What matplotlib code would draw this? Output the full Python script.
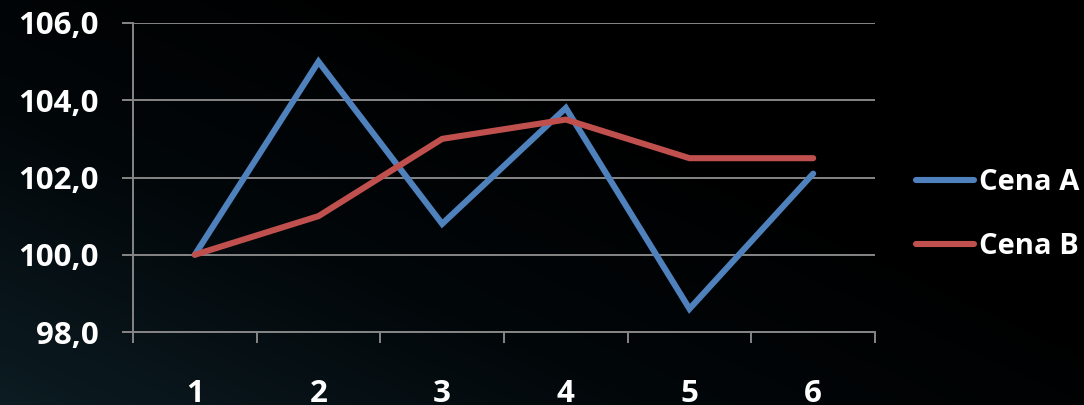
import matplotlib

matplotlib.use("Agg")
import matplotlib.pyplot as plt  # noqa: E402
import numpy as np  # noqa: E402
from matplotlib.colors import LinearSegmentedColormap  # noqa: E402

categories = ["1", "2", "3", "4", "5", "6"]
cena_a = [100.0, 105.0, 100.8, 103.8, 98.6, 102.1]
cena_b = [100.0, 101.0, 103.0, 103.5, 102.5, 102.5]
series_names = ["Cena A", "Cena B"]
y_ticks = [98.0, 100.0, 102.0, 104.0, 106.0]

W, H = 1084, 405
fig = plt.figure(figsize=(W / 100, H / 100), dpi=100)

# background gradient: dark teal bottom-left to black top-right
bg = fig.add_axes([0, 0, 1, 1])
gx, gy = np.meshgrid(np.linspace(0, 1, 400), np.linspace(0, 1, 150))
t = np.clip(1.0 - (gx * 1.1 + (1 - gy) * 0.9) / 1.3, 0, 1)
cmap_bg = LinearSegmentedColormap.from_list("bg", ["#000000", "#02070a", "#0c1c22"])
bg.imshow(t, cmap=cmap_bg, aspect="auto", extent=[0, 1, 0, 1], origin="upper")
bg.set_axis_off()

fam = ["Open Sans", "DejaVu Sans"]
font = {"family": fam, "weight": "bold"}
ax = fig.add_axes([133 / W, 1 - 332 / H, (875 - 133) / W, (332 - 23) / H])
ax.patch.set_alpha(0)
x = np.arange(len(categories))
ax.plot(x, cena_a, color="#4f81bd", linewidth=4.4, solid_capstyle="round", solid_joinstyle="miter", label=series_names[0], zorder=3)
ax.plot(x, cena_b, color="#c0504d", linewidth=4.4, solid_capstyle="round", solid_joinstyle="miter", label=series_names[1], zorder=3)

ax.set_xlim(-0.5, len(categories) - 0.5)
ax.set_ylim(98, 106)
ax.set_yticks(y_ticks)
ax.set_yticklabels([f"{v:.1f}".replace(".", ",") for v in y_ticks], fontdict=font, fontsize=22.5, color="white")
ax.set_xticks(x)
ax.set_xticklabels(categories, fontdict=font, fontsize=22.5, color="white")
ax.set_xticks(np.arange(-0.5, len(categories)), minor=True)
ax.tick_params(axis="x", which="major", length=0, pad=34)
ax.tick_params(axis="x", which="minor", length=8, width=1.4, color="#868686", direction="out")
ax.tick_params(axis="y", length=8, width=1.4, color="#868686", pad=17)
ax.grid(True, axis="y", color="#868686", linewidth=1.4, zorder=1)
for side in ["top", "right"]:
    ax.spines[side].set_visible(False)
for side in ["left", "bottom"]:
    ax.spines[side].set_color("#868686")
    ax.spines[side].set_linewidth(1.4)

leg = ax.legend(loc="center left", bbox_to_anchor=(1.02, 0.38), frameon=False,
                prop={"family": fam, "weight": "bold", "size": 21},
                handlelength=2.0, handletextpad=0.15, labelspacing=1.2)
for txt in leg.get_texts():
    txt.set_color("white")

fig.savefig("out.png", dpi=100)
